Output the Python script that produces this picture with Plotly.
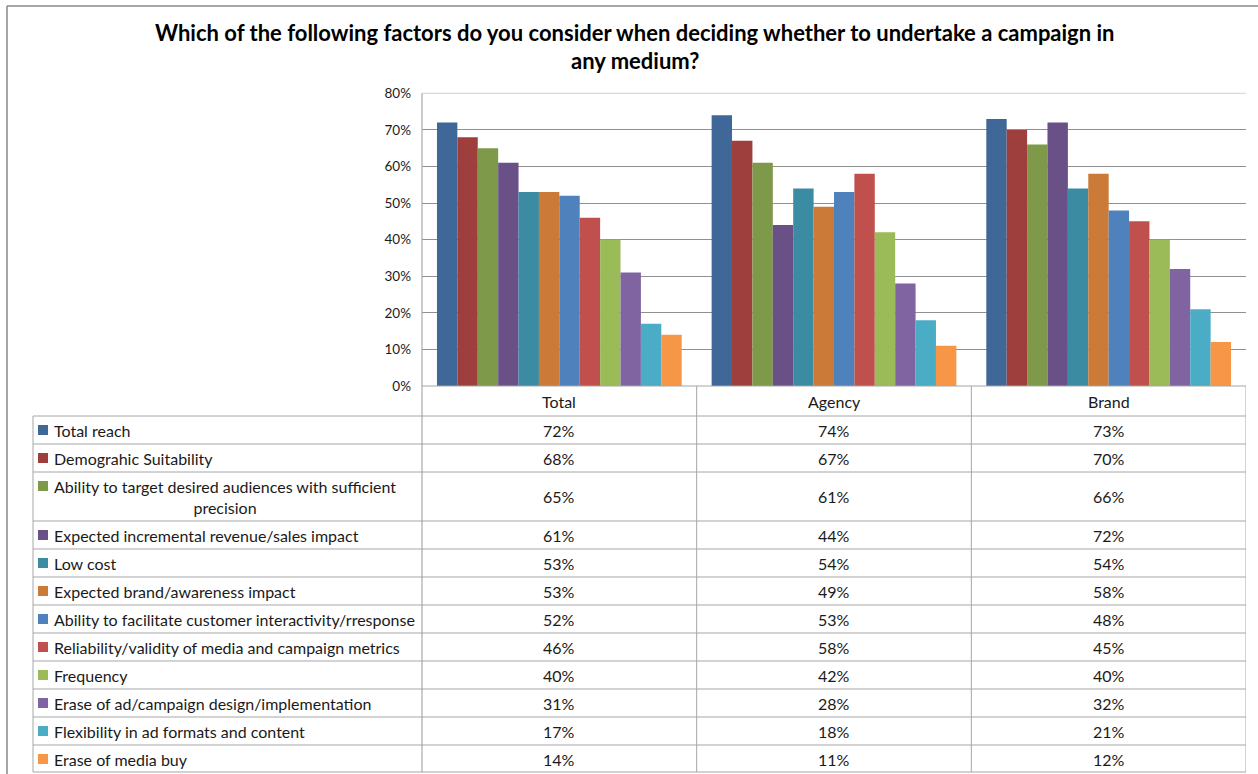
import textwrap
import plotly.graph_objects as go

# ---- data -------------------------------------------------------------
categories = ["Total", "Agency", "Brand"]
factors = [
    "Total reach",
    "Demograhic Suitability",
    "Ability to target desired audiences with sufficient precision",
    "Expected incremental revenue/sales impact",
    "Low cost",
    "Expected brand/awareness impact",
    "Ability to facilitate customer interactivity/rresponse",
    "Reliability/validity of media and campaign metrics",
    "Frequency",
    "Erase of ad/campaign design/implementation",
    "Flexibility in ad formats and content",
    "Erase of media buy",
]
total = [72, 68, 65, 61, 53, 53, 52, 46, 40, 31, 17, 14]
agency = [74, 67, 61, 44, 54, 49, 53, 58, 42, 28, 18, 11]
brand = [73, 70, 66, 72, 54, 58, 48, 45, 40, 32, 21, 12]
y_ticks = [0, 10, 20, 30, 40, 50, 60, 70, 80]

colors = [
    "#3F6898", "#9E3F3D", "#7F994A", "#695087", "#3B8BA3", "#CB7A38",
    "#4F81BD", "#C0504D", "#9BBB59", "#8064A2", "#4BACC6", "#F79646",
]

title_lines = [
    "Which of the following factors do you consider when deciding whether to undertake a campaign in",
    "any medium?",
]

# ---- page geometry (pixels) -------------------------------------------
W, H = 1258, 774
FONT = "Lato"
LINE = "#a6a6a6"
TEXT = "#1a1a1a"


def px(x):
    return x / W


def py(y):
    return 1 - y / H


plot_left, plot_right = 422, 1246
plot_top, plot_bottom = 93.3, 386
header_bottom = 416
table_left = 33

fig = go.Figure()

series_by_cat = list(zip(total, agency, brand))
for name, color, vals in zip(factors, colors, series_by_cat):
    fig.add_trace(
        go.Bar(
            name=name,
            x=categories,
            y=[v / 100 for v in vals],
            marker=dict(color=color, line=dict(width=0)),
            hoverinfo="x+y+name",
        )
    )

shapes = []
annotations = []


def hline(y, x0, x1, color=LINE, width=1, xref="paper"):
    shapes.append(dict(type="line", xref=xref, yref="paper", x0=x0, x1=x1,
                       y0=py(y), y1=py(y), line=dict(color=color, width=width)))


def vline(x, y0, y1, color=LINE, width=1, xref="paper"):
    shapes.append(dict(type="line", xref=xref, yref="paper", x0=x, x1=x,
                       y0=py(y0), y1=py(y1), line=dict(color=color, width=width)))


# outer chart frame
vline(px(7), 6, H, color="#888888", width=1.5)
hline(6, px(7), 1.0, color="#888888", width=1.5)

# lighter top edge of the plot area
hline(plot_top, px(plot_left), px(plot_right), color="#d0d0d0")

# data table rows
wrapped = [textwrap.wrap(f, 55) for f in factors]
row_edges = [header_bottom]
for lines in wrapped:
    row_edges.append(row_edges[-1] + 28 + 21 * (len(lines) - 1))
table_bottom = row_edges[-1] - 1

# horizontal rules
hline(plot_bottom, px(plot_left), px(plot_right))
for y in row_edges[:-1] + [table_bottom]:
    hline(y, px(table_left), px(plot_right))

# vertical rules
vline(px(plot_left), plot_top, table_bottom, color="#999999")
vline(px(table_left), header_bottom, table_bottom)
for k in range(1, len(categories) + 1):
    vline(k - 0.5, plot_bottom, table_bottom, xref="x")

# column headers
for cat in categories:
    annotations.append(dict(x=cat, xref="x", y=py((plot_bottom + header_bottom) / 2),
                            yref="paper", text=cat, showarrow=False,
                            font=dict(family=FONT, size=16, color=TEXT),
                            xanchor="center", yanchor="middle"))

# table body
for i, (lines, color) in enumerate(zip(wrapped, colors)):
    y0, y1 = row_edges[i], row_edges[i + 1]
    yc = (y0 + y1) / 2
    # legend key
    first_line_y = yc if len(lines) == 1 else y0 + 14
    shapes.append(dict(type="rect", xref="paper", yref="paper",
                       x0=px(38), x1=px(48), y0=py(first_line_y + 5), y1=py(first_line_y - 5),
                       fillcolor=color, line=dict(width=0)))
    annotations.append(dict(x=px(52), xref="paper", y=py(yc), yref="paper",
                            text="<br>".join(lines), showarrow=False, align="center",
                            font=dict(family=FONT, size=16, color=TEXT),
                            xanchor="left", yanchor="middle"))
    for cat, vals in zip(categories, (total, agency, brand)):
        annotations.append(dict(x=cat, xref="x", y=py(yc), yref="paper",
                                text=f"{vals[i]}%", showarrow=False,
                                font=dict(family=FONT, size=16, color=TEXT),
                                xanchor="center", yanchor="middle"))

# title
for j, line in enumerate(title_lines):
    annotations.append(dict(x=px(635), xref="paper", y=py(32 + 28 * j), yref="paper",
                            text=f"<b>{line}</b>", showarrow=False,
                            font=dict(family=FONT, size=22, color="#000000"),
                            xanchor="center", yanchor="middle"))

fig.update_layout(
    width=W, height=H, autosize=False,
    margin=dict(l=0, r=0, t=0, b=0, pad=0, autoexpand=False),
    paper_bgcolor="white", plot_bgcolor="white",
    barmode="group", bargap=0.109, bargroupgap=0,
    showlegend=False,
    shapes=shapes, annotations=annotations,
    xaxis=dict(domain=[px(plot_left), px(plot_right)], range=[-0.5, 2.5],
               showticklabels=False, showgrid=False, showline=False, zeroline=False,
               fixedrange=True),
    yaxis=dict(domain=[py(plot_bottom), py(plot_top)], range=[0, 0.8],
               tickvals=[t / 100 for t in y_ticks],
               ticktext=[f"{t}%" for t in y_ticks],
               tickfont=dict(family=FONT, size=13.5, color=TEXT),
               showgrid=True, gridcolor="#909090", gridwidth=1,
               zeroline=False, showline=False, ticks="", ticklabelstandoff=10,
               fixedrange=True),
)

fig.write_html("out.html")
